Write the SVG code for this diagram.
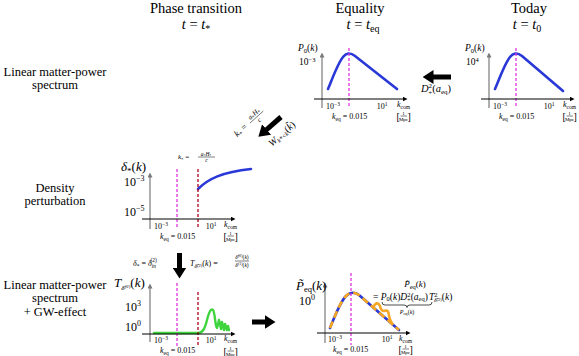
<svg xmlns="http://www.w3.org/2000/svg" width="579" height="356" viewBox="0 0 579 356" font-family="'Liberation Serif', 'DejaVu Serif', serif">
<style>
text{fill:#000}
.h{font-size:14.5px}
.r{font-size:12.5px}
.i{font-style:italic}
.s8{font-size:8px}
.s9{font-size:9.5px}
.s12{font-size:12px}
.s13{font-size:13px}
.ay{stroke:#7a7a7a;stroke-width:1.2;fill:none}
.ax{stroke:#000;stroke-width:1;fill:none}
.mag{stroke:#e033e0;stroke-width:1.3;stroke-dasharray:3,2;fill:none}
.dred{stroke:#b0001a;stroke-width:1.3;stroke-dasharray:3,2;fill:none}
.blue{stroke:#2a38d8;stroke-width:2.6;fill:none;stroke-linecap:round;stroke-linejoin:round}
.green{stroke:#3ed43e;stroke-width:2.4;fill:none;stroke-linecap:round;stroke-linejoin:round}
.orange{stroke:#f5a623;stroke-width:2.6;fill:none;stroke-linejoin:round}
.frac{stroke:#000;stroke-width:0.5}
.big{stroke:#000;stroke-width:5;fill:none}
</style>
<defs>
<marker id="head" markerUnits="userSpaceOnUse" markerWidth="11" markerHeight="14" refX="0.5" refY="7" orient="auto"><path d="M0,0 L11,7 L0,14 z" fill="#000"/></marker>
<marker id="axK" markerUnits="userSpaceOnUse" markerWidth="5" markerHeight="5" refX="0.5" refY="2.5" orient="auto"><path d="M0,0 L5,2.5 L0,5 z" fill="#000"/></marker>
<marker id="axG" markerUnits="userSpaceOnUse" markerWidth="5" markerHeight="5" refX="0.5" refY="2.5" orient="auto"><path d="M0,0 L5,2.5 L0,5 z" fill="#7a7a7a"/></marker>
</defs>
<rect width="579" height="356" fill="#fff"/>

<g id="header-phase">
<text class="h" x="196" y="13" text-anchor="middle">Phase transition</text>
<text class="h" x="196" y="29" text-anchor="middle"><tspan class="i">t</tspan> = <tspan class="i">t</tspan><tspan font-size="10" dy="3">*</tspan></text>
</g>
<g id="header-equality">
<text class="h" x="360" y="13" text-anchor="middle">Equality</text>
<text class="h" x="363" y="29" text-anchor="middle"><tspan class="i">t</tspan> = <tspan class="i">t</tspan><tspan font-size="10" dy="3">eq</tspan></text>
</g>
<g id="header-today">
<text class="h" x="529" y="13" text-anchor="middle">Today</text>
<text class="h" x="527" y="29" text-anchor="middle"><tspan class="i">t</tspan> = <tspan class="i">t</tspan><tspan font-size="10" dy="3">0</tspan></text>
</g>

<g id="row-linear">
<text class="r" x="55" y="76" text-anchor="middle">Linear matter-power</text>
<text class="r" x="55" y="89" text-anchor="middle">spectrum</text>
</g>
<g id="row-density">
<text class="r" x="55" y="192" text-anchor="middle">Density</text>
<text class="r" x="55" y="205" text-anchor="middle">perturbation</text>
</g>
<g id="row-gw">
<text class="r" x="55" y="289" text-anchor="middle">Linear matter-power</text>
<text class="r" x="55" y="302" text-anchor="middle">spectrum</text>
<text class="r" x="55" y="316" text-anchor="middle">+ GW-effect</text>
</g>

<g id="plot-today" transform="translate(489,99)">
<path class="blue" d="M6,-10 C11,-22 16,-36 21,-42 C24,-46 28,-47 33,-43 L74,-8"/>
<line class="mag" x1="27" y1="-51" x2="27" y2="9"/>
<line class="ay" x1="0" y1="9" x2="0" y2="-42" marker-end="url(#axG)"/>
<line class="ax" x1="-8" y1="0" x2="81" y2="0" marker-end="url(#axK)"/>
<text class="s9" x="-24" y="-48"><tspan class="i">P</tspan><tspan font-size="6.5" dy="1.5">0</tspan><tspan dy="-1.5">(</tspan><tspan class="i">k</tspan>)</text>
<text class="s9" x="-23" y="-34">10<tspan font-size="6.5" dy="-3.5">4</tspan></text>
<text class="s8" x="11" y="10" text-anchor="middle">10<tspan font-size="5.5" dy="-3">−3</tspan></text>
<text class="s8" x="60" y="10" text-anchor="middle">10<tspan font-size="5.5" dy="-3">1</tspan></text>
<text class="s8" x="74" y="8"><tspan class="i">k</tspan><tspan font-size="5.5" dy="1.5">com</tspan></text>
<text font-size="10" x="73.5" y="21">[</text><text font-size="5" x="80.5" y="15.5" text-anchor="middle">1</text><line class="frac" x1="77.5" y1="17" x2="84" y2="17"/><text font-size="5" x="80.5" y="21.5" text-anchor="middle">Mpc</text><text font-size="10" x="84.5" y="21">]</text>
<text class="s8" x="10" y="20"><tspan class="i">k</tspan><tspan font-size="5.5" dy="1.5">eq</tspan><tspan dy="-1.5"> = 0.015</tspan></text>
</g>

<g id="plot-equality" transform="translate(322,99)">
<path class="blue" d="M6,-10 C11,-22 16,-36 21,-42 C24,-46 28,-47 33,-43 L75,-10"/>
<line class="mag" x1="27" y1="-51" x2="27" y2="9"/>
<line class="ay" x1="0" y1="9" x2="0" y2="-42" marker-end="url(#axG)"/>
<line class="ax" x1="-8" y1="0" x2="81" y2="0" marker-end="url(#axK)"/>
<text class="s9" x="-24" y="-48"><tspan class="i">P</tspan><tspan font-size="6.5" dy="1.5">0</tspan><tspan dy="-1.5">(</tspan><tspan class="i">k</tspan>)</text>
<text class="s9" x="-23" y="-34">10<tspan font-size="6.5" dy="-3.5">−3</tspan></text>
<text class="s8" x="11" y="10" text-anchor="middle">10<tspan font-size="5.5" dy="-3">−3</tspan></text>
<text class="s8" x="60" y="10" text-anchor="middle">10<tspan font-size="5.5" dy="-3">1</tspan></text>
<text class="s8" x="75" y="8"><tspan class="i">k</tspan><tspan font-size="5.5" dy="1.5">com</tspan></text>
<text font-size="10" x="74.5" y="21">[</text><text font-size="5" x="81.5" y="15.5" text-anchor="middle">1</text><line class="frac" x1="78.5" y1="17" x2="85" y2="17"/><text font-size="5" x="81.5" y="21.5" text-anchor="middle">Mpc</text><text font-size="10" x="85.5" y="21">]</text>
<text class="s8" x="10" y="20"><tspan class="i">k</tspan><tspan font-size="5.5" dy="1.5">eq</tspan><tspan dy="-1.5"> = 0.015</tspan></text>
</g>

<g id="plot-density" transform="translate(150,219)">
<path class="blue" d="M48,-30 C58,-40 72,-47 101,-50"/>
<line class="mag" x1="27" y1="-50" x2="27" y2="10"/>
<line class="dred" x1="48" y1="-50" x2="48" y2="10"/>
<line class="ay" x1="0" y1="10" x2="0" y2="-42" marker-end="url(#axG)"/>
<line class="ax" x1="-8" y1="0" x2="81" y2="0" marker-end="url(#axK)"/>
<text class="s13" x="-29" y="-48"><tspan class="i">δ</tspan><tspan font-size="9" dy="3">*</tspan><tspan dy="-3">(</tspan><tspan class="i">k</tspan>)</text>
<text class="s12" x="-26" y="-33">10<tspan font-size="8" dy="-5">−3</tspan></text>
<text class="s12" x="-26" y="-3">10<tspan font-size="8" dy="-5">−5</tspan></text>
<text class="s8" x="11" y="10" text-anchor="middle">10<tspan font-size="5.5" dy="-3">−3</tspan></text>
<text class="s8" x="61" y="10" text-anchor="middle">10<tspan font-size="5.5" dy="-3">1</tspan></text>
<text class="s8" x="74" y="8"><tspan class="i">k</tspan><tspan font-size="5.5" dy="1.5">com</tspan></text>
<text font-size="10" x="73.5" y="21">[</text><text font-size="5" x="80.5" y="15.5" text-anchor="middle">1</text><line class="frac" x1="77.5" y1="17" x2="84" y2="17"/><text font-size="5" x="80.5" y="21.5" text-anchor="middle">Mpc</text><text font-size="10" x="84.5" y="21">]</text>
<text class="s8" x="10" y="20"><tspan class="i">k</tspan><tspan font-size="5.5" dy="1.5">eq</tspan><tspan dy="-1.5"> = 0.015</tspan></text>
</g>

<g id="label-kstar">
<text font-size="7" x="178" y="159"><tspan class="i">k</tspan><tspan font-size="5" dy="1.5">*</tspan><tspan dy="-1.5"> =</tspan></text>
<text font-size="5.5" x="206" y="155.5" text-anchor="middle"><tspan class="i">a</tspan><tspan font-size="4" dy="1">*</tspan><tspan class="i" dy="-1">H</tspan><tspan font-size="4" dy="1">*</tspan></text>
<line class="frac" x1="198" y1="157" x2="215" y2="157"/>
<text font-size="5.5" x="206.5" y="162" text-anchor="middle" class="i">c</text>
</g>

<g id="plot-transfer" transform="translate(150,334)">
<path class="green" d="M4,-1 L48,-1 C53,-1 55,-6 57,-14 C59,-22 61,-26 63,-24 C65,-22 65,-8 67,-6 L69,-14 L71,-5 L72,-12 L74,-4 L75,-10 L77,-4 L78,-8 L79,-4"/>
<line class="mag" x1="27" y1="-51" x2="27" y2="12"/>
<line class="dred" x1="48" y1="-42" x2="48" y2="12"/>
<line class="ay" x1="0" y1="8" x2="0" y2="-46" marker-end="url(#axG)"/>
<line class="ax" x1="-8" y1="0" x2="81" y2="0" marker-end="url(#axK)"/>
<text class="s13" x="-36" y="-47"><tspan class="i">T</tspan><tspan font-size="7" dy="3" class="i">δ̃</tspan><tspan font-size="5" dy="-2">(2)</tspan><tspan dy="-1">(</tspan><tspan class="i">k</tspan>)</text>
<text class="s12" x="-25" y="-23">10<tspan font-size="8" dy="-5">3</tspan></text>
<text class="s12" x="-25" y="-3">10<tspan font-size="8" dy="-5">0</tspan></text>
<text class="s8" x="11" y="9" text-anchor="middle">10<tspan font-size="5.5" dy="-3">−3</tspan></text>
<text class="s8" x="61" y="9" text-anchor="middle">10<tspan font-size="5.5" dy="-3">1</tspan></text>
<text class="s8" x="74" y="7"><tspan class="i">k</tspan><tspan font-size="5.5" dy="1.5">com</tspan></text>
<text font-size="10" x="73.5" y="21">[</text><text font-size="5" x="80.5" y="15.5" text-anchor="middle">1</text><line class="frac" x1="77.5" y1="17" x2="84" y2="17"/><text font-size="5" x="80.5" y="21.5" text-anchor="middle">Mpc</text><text font-size="10" x="84.5" y="21">]</text>
<text class="s8" x="10" y="19"><tspan class="i">k</tspan><tspan font-size="5.5" dy="1.5">eq</tspan><tspan dy="-1.5"> = 0.015</tspan></text>
</g>

<g id="label-delta-in">
<text font-size="8" x="133" y="266"><tspan class="i">δ</tspan><tspan font-size="5.5" dy="1.5">*</tspan><tspan dy="-1.5"> = </tspan><tspan class="i">δ</tspan><tspan font-size="5.5" dy="2" class="i">in</tspan><tspan font-size="5.5" dx="-5.5" dy="-6">(2)</tspan></text>
</g>
<g id="label-transfer-def">
<text font-size="8" x="190" y="266"><tspan class="i">T</tspan><tspan font-size="5.5" dy="1.5" class="i">δ̃</tspan><tspan font-size="4.5" dy="-1">(2)</tspan><tspan dy="-0.5">(</tspan><tspan class="i">k</tspan>) =</text>
<text font-size="5.5" x="242" y="258.5" text-anchor="middle"><tspan class="i">δ̃</tspan><tspan font-size="4" dy="-2">(2)</tspan><tspan dy="2">(</tspan><tspan class="i">k</tspan>)</text>
<line class="frac" x1="235" y1="261" x2="249" y2="261"/>
<text font-size="5.5" x="242" y="267" text-anchor="middle"><tspan class="i">δ</tspan><tspan font-size="4" dy="-2">(1)</tspan><tspan dy="2">(</tspan><tspan class="i">k</tspan>)</text>
</g>

<g id="plot-final" transform="translate(325,333)">
<path class="blue" d="M5,-5 C10,-17 15,-31 21,-37 C25,-41 30,-41 34,-38 L74,-3"/>
<path class="orange" stroke-dasharray="7,4" d="M5,-5 C10,-17 15,-31 21,-37 C25,-41 30,-41 34,-38 L74,-3"/>
<path class="orange" d="M48,-25.5 Q52,-33 55,-27 Q56,-22 59,-22 Q64,-24 64,-17 Q65,-12 68,-8"/>
<line class="mag" x1="26" y1="-60" x2="26" y2="12"/>
<line class="ay" x1="0" y1="10" x2="0" y2="-46" marker-end="url(#axG)"/>
<line class="ax" x1="-8" y1="0" x2="81" y2="0" marker-end="url(#axK)"/>
<text class="s13" x="-29" y="-43"><tspan class="i">P̃</tspan><tspan font-size="8.5" dy="2">eq</tspan><tspan dy="-2">(</tspan><tspan class="i">k</tspan>)</text>
<text class="s12" x="-26" y="-28">10<tspan font-size="8" dy="-5">0</tspan></text>
<text class="s8" x="10" y="9" text-anchor="middle">10<tspan font-size="5.5" dy="-3">−3</tspan></text>
<text class="s8" x="62" y="9" text-anchor="middle">10<tspan font-size="5.5" dy="-3">1</tspan></text>
<text class="s8" x="74" y="8"><tspan class="i">k</tspan><tspan font-size="5.5" dy="1.5">com</tspan></text>
<text font-size="10" x="73.5" y="20">[</text><text font-size="5" x="80.5" y="14.5" text-anchor="middle">1</text><line class="frac" x1="77.5" y1="16" x2="84" y2="16"/><text font-size="5" x="80.5" y="20.5" text-anchor="middle">Mpc</text><text font-size="10" x="84.5" y="20">]</text>
<text class="s8" x="8" y="19"><tspan class="i">k</tspan><tspan font-size="5.5" dy="1.5">eq</tspan><tspan dy="-1.5"> = 0.015</tspan></text>
</g>

<g id="label-final-eq">
<text font-size="9" x="415" y="287" text-anchor="middle"><tspan class="i">P̃</tspan><tspan font-size="6.5" dy="1.5">eq</tspan><tspan dy="-1.5">(</tspan><tspan class="i">k</tspan>)</text>
<text font-size="9.5" x="373" y="299.5">= <tspan class="i">P</tspan><tspan font-size="6.5" dy="1.5">0</tspan><tspan dy="-1.5">(</tspan><tspan class="i">k</tspan>)<tspan class="i">D</tspan><tspan font-size="6.5" dy="-3">2</tspan><tspan font-size="6.5" dx="-3.5" dy="5.5">+</tspan><tspan dy="-2.5">(</tspan><tspan class="i">a</tspan><tspan font-size="6.5" dy="1.5">eq</tspan><tspan dy="-1.5">)</tspan><tspan class="i" dx="1">T</tspan><tspan font-size="6.5" dy="-3">2</tspan><tspan font-size="5.5" class="i" dx="-3.5" dy="5.5">δ̃</tspan><tspan font-size="4.5" dy="-1">(2)</tspan><tspan dy="-1.5">(</tspan><tspan class="i">k</tspan>)</text>
<path d="M382,302 Q382,305 385,305 L404,305 Q407,305 407,307.5 Q407,305 410,305 L429,305 Q432,305 432,302" fill="none" stroke="#000" stroke-width="0.7"/>
<text font-size="6" x="407" y="314" text-anchor="middle"><tspan class="i">P</tspan><tspan font-size="4.5" dy="1">eq</tspan><tspan dy="-1">(</tspan><tspan class="i">k</tspan>)</text>
</g>

<g id="label-growth">
<text font-size="10.5" x="421" y="92"><tspan class="i">D</tspan><tspan font-size="7" dy="-4">2</tspan><tspan font-size="7" dx="-3.8" dy="7">+</tspan><tspan dy="-3">(</tspan><tspan class="i">a</tspan><tspan font-size="7" dy="1.5">eq</tspan><tspan dy="-1.5">)</tspan></text>
</g>

<g id="label-diag-k" transform="translate(253,119) rotate(-42)">
<text font-size="9" x="-24" y="3"><tspan class="i">k</tspan><tspan font-size="6" dy="2">*</tspan><tspan dy="-2"> =</tspan></text>
<text font-size="7" x="4" y="-1" text-anchor="middle"><tspan class="i">a</tspan><tspan font-size="5" dy="1.5">*</tspan><tspan class="i" dy="-1.5">H</tspan><tspan font-size="5" dy="1.5">*</tspan></text>
<line class="frac" x1="-5" y1="1" x2="13" y2="1"/>
<text font-size="7" x="4" y="7" text-anchor="middle" class="i">c</text>
</g>
<g id="label-diag-w" transform="translate(282,134) rotate(-42)">
<text font-size="10" x="0" y="3" text-anchor="middle"><tspan class="i">W</tspan><tspan font-size="6.5" dy="2"><tspan class="i">k</tspan>*&lt;<tspan class="i">k</tspan></tspan><tspan dy="-2">(</tspan><tspan class="i">k̃</tspan>)</text>
</g>

<g id="connectors">
<line class="big" x1="451" y1="77" x2="433" y2="77" marker-end="url(#head)"/>
<line class="big" x1="281" y1="117" x2="266.3" y2="129.8" marker-end="url(#head)"/>
<line class="big" x1="179.5" y1="253" x2="179.5" y2="268" marker-end="url(#head)"/>
<line class="big" x1="252" y1="322" x2="265" y2="322" marker-end="url(#head)"/>
</g>
</svg>
